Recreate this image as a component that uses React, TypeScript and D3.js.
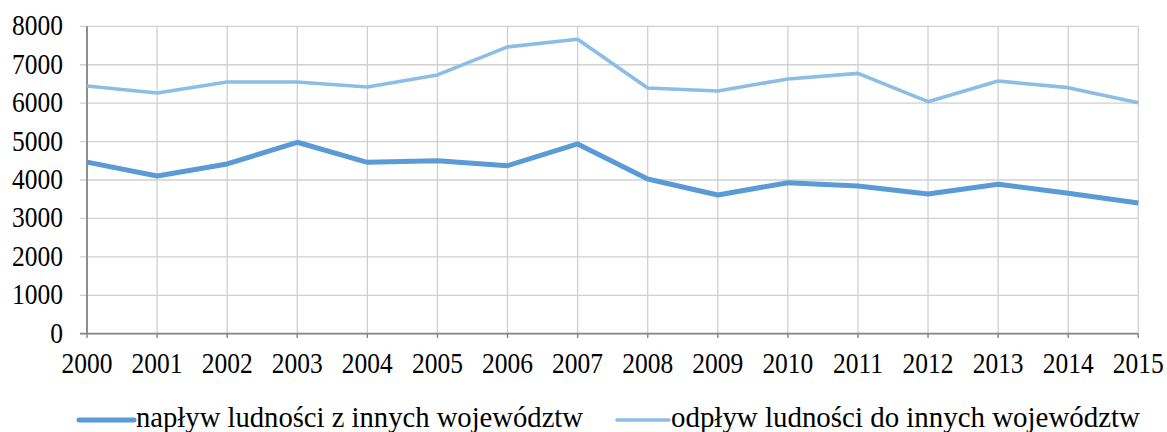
import React from "react";
import * as d3 from "d3";

const years = ["2000","2001","2002","2003","2004","2005","2006","2007","2008","2009","2010","2011","2012","2013","2014","2015"];
const naplyw = [4465, 4105, 4417, 4982, 4461, 4504, 4373, 4938, 4027, 3610, 3930, 3844, 3636, 3889, 3654, 3400];
const odplyw = [6447, 6265, 6551, 6551, 6421, 6734, 7463, 7662, 6395, 6317, 6630, 6776, 6039, 6577, 6403, 6013];
const yTicks = [0, 1000, 2000, 3000, 4000, 5000, 6000, 7000, 8000];
const seriesNames = ["napływ ludności z innych województw", "odpływ ludności do innych województw"];

const W = 1167, H = 432;
const FONT = "'Liberation Serif', 'Times New Roman', serif";

function Label(props: { x: number; y: number; anchor?: string; children: React.ReactNode; len?: number }) {
  const { x, y, anchor, children, len } = props;
  return (
    <text
      transform={`translate(${x},${y}) scale(1,1.12)`}
      textAnchor={anchor || "start"}
      fontFamily={FONT}
      fontSize={25.5}
      fill="#000"
      textLength={len}
      lengthAdjust={len ? "spacingAndGlyphs" : undefined}
    >
      {children}
    </text>
  );
}

export default function App() {
  const x = d3.scalePoint<string>().domain(years).range([87, 1138.3]);
  const y = d3.scaleLinear().domain([0, 8000]).range([333.7, 26.3]);
  const line = d3.line<number>().x((_, i) => x(years[i])!).y((d) => y(d));
  const dark = "#5B9BD5";
  const light = "#8CBDE4";
  return (
    <svg width={W} height={H} style={{ position: "absolute", left: 0, top: 0, background: "#fff" }}>
      {yTicks.map((t) => (
        <g key={t}>
          <line x1={80} x2={1138.3} y1={y(t)} y2={y(t)} stroke="#D0D0D0" strokeWidth={1.3} />
          <Label x={63} y={y(t) + 9} anchor="end">{t}</Label>
        </g>
      ))}
      {years.map((yr) => (
        <g key={yr}>
          <line x1={x(yr)} x2={x(yr)} y1={26.3} y2={337.5} stroke="#D0D0D0" strokeWidth={1.3} />
          <Label x={x(yr)!} y={373} anchor="middle">{yr}</Label>
        </g>
      ))}
      <line x1={87} x2={87} y1={26.3} y2={333.7} stroke="#868686" strokeWidth={1.8} />
      <line x1={80} x2={1138.3} y1={333.7} y2={333.7} stroke="#868686" strokeWidth={1.8} />
      {years.map((yr) => (
        <line key={"t" + yr} x1={x(yr)} x2={x(yr)} y1={333.7} y2={338} stroke="#868686" strokeWidth={1.3} />
      ))}
      <path d={line(odplyw)!} fill="none" stroke={light} strokeWidth={3.6} strokeLinejoin="round" />
      <path d={line(naplyw)!} fill="none" stroke={dark} strokeWidth={5} strokeLinejoin="round" />
      <line x1={79} x2={134} y1={420} y2={420} stroke={dark} strokeWidth={5} strokeLinecap="round" />
      <Label x={136} y={427} len={447}>{seriesNames[0]}</Label>
      <line x1={617} x2={669} y1={420} y2={420} stroke={light} strokeWidth={3.6} strokeLinecap="round" />
      <Label x={671} y={427} len={469}>{seriesNames[1]}</Label>
    </svg>
  );
}
